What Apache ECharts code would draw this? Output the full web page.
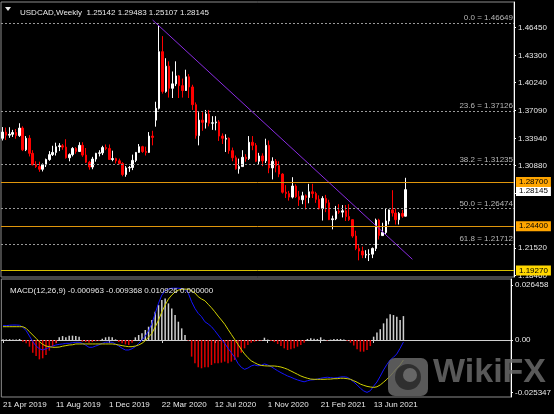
<!DOCTYPE html>
<html><head><meta charset="utf-8">
<script src="https://cdn.jsdelivr.net/npm/echarts@6/dist/echarts.min.js"></script>
<style>html,body{margin:0;padding:0;background:#000;}#c{width:554px;height:414px;}</style>
</head><body><div id="c"></div>
<script>
// ---- DATA ----
const symbolTitle = 'USDCAD,Weekly';
const startWeek = '2019-04-21';
const totalSlots = 154; // chart width in weekly slots (incl. empty right shift)
const opens = [1.3395,1.3465,1.3430,1.3440,1.3460,1.3425,1.3510,1.3265,1.3395,1.3225,
1.3095,1.3075,1.3045,1.3095,1.3155,1.3210,1.3235,1.3300,1.3310,1.3295,
1.3175,1.3210,1.3280,1.3245,1.3315,1.3205,1.3125,1.3070,1.3160,1.3225,
1.3230,1.3290,1.3280,1.3155,1.3165,1.3140,1.3110,1.2985,1.3060,1.3065,
1.3145,1.3235,1.3300,1.3245,1.3235,1.3420,1.3600,1.3734,1.4374,1.3925,
1.4210,1.3960,1.4010,1.4100,1.3990,1.3935,1.4090,1.3975,1.3775,1.3425,
1.3600,1.3575,1.3670,1.3565,1.3570,1.3580,1.3420,1.3385,1.3395,1.3255,
1.3175,1.3050,1.3075,1.3180,1.3165,1.3350,1.3315,1.3135,1.3195,1.3140,
1.3315,1.3060,1.3135,1.3085,1.2990,1.2785,1.2770,1.2730,1.2855,1.2735,
1.2700,1.2745,1.2725,1.2790,1.2770,1.2705,1.2600,1.2715,1.2665,1.2475,
1.2485,1.2570,1.2560,1.2575,1.2510,1.2475,1.2290,1.2150,1.2120,1.2075,
1.2080,1.2085,1.2150,1.2470,1.2295,1.2330,1.2460,1.2585,1.2550,1.2475,
1.2545,1.25142];
const highs = [1.3522,1.3516,1.3520,1.3490,1.3500,1.3565,1.3530,1.3420,1.3430,1.3260,
1.3135,1.3130,1.3110,1.3165,1.3250,1.3310,1.3345,1.3340,1.3330,1.3384,
1.3225,1.3295,1.3295,1.3350,1.3350,1.3285,1.3140,1.3185,1.3230,1.3260,
1.3310,1.3325,1.3325,1.3255,1.3175,1.3165,1.3125,1.3080,1.3082,1.3210,
1.3240,1.3330,1.3310,1.3300,1.3465,1.3480,1.3808,1.4667,1.4550,1.4300,
1.4265,1.4150,1.4265,1.4110,1.4070,1.4170,1.4120,1.4000,1.3800,1.3690,
1.3690,1.3715,1.3715,1.3645,1.3645,1.3600,1.3450,1.3440,1.3405,1.3290,
1.3200,1.3165,1.3260,1.3215,1.3420,1.3420,1.3340,1.3230,1.3225,1.3390,
1.3370,1.3180,1.3160,1.3135,1.3000,1.2865,1.2800,1.2955,1.2875,1.2800,
1.2790,1.2760,1.2880,1.2880,1.2790,1.2750,1.2740,1.2755,1.2700,1.2520,
1.2630,1.2650,1.2640,1.2640,1.2650,1.2480,1.2350,1.2190,1.2170,1.2130,
1.2140,1.2160,1.2487,1.2485,1.2440,1.2605,1.2590,1.2808,1.2600,1.2560,
1.2585,1.29483];
const lows = [1.3370,1.3375,1.3400,1.3410,1.3390,1.3410,1.3250,1.3250,1.3190,1.3090,
1.3060,1.3016,1.3020,1.3070,1.3140,1.3195,1.3200,1.3250,1.3265,1.3165,
1.3135,1.3190,1.3220,1.3240,1.3185,1.3115,1.3040,1.3045,1.3130,1.3190,
1.3205,1.3260,1.3150,1.3135,1.3110,1.3100,1.2965,1.2960,1.3015,1.3035,
1.3125,1.3230,1.3230,1.3200,1.3230,1.3315,1.3526,1.3720,1.3900,1.3910,
1.3855,1.3850,1.3985,1.3850,1.3855,1.3930,1.3850,1.3715,1.3390,1.3315,
1.3480,1.3505,1.3530,1.3490,1.3485,1.3365,1.3330,1.3240,1.3220,1.3135,
1.3040,1.2995,1.3075,1.3130,1.3150,1.3260,1.3125,1.3100,1.3080,1.3115,
1.3000,1.2930,1.3010,1.2955,1.2770,1.2720,1.2690,1.2715,1.2720,1.2630,
1.2650,1.2590,1.2660,1.2720,1.2665,1.2590,1.2465,1.2560,1.2470,1.2365,
1.2470,1.2540,1.2500,1.2460,1.2460,1.2270,1.2130,1.2015,1.2040,1.2040,
1.2007,1.2040,1.2120,1.2250,1.2290,1.2305,1.2420,1.2510,1.2420,1.2420,
1.2495,1.25107];
const closes = [1.3465,1.3430,1.3440,1.3460,1.3425,1.3510,1.3265,1.3395,1.3225,1.3095,
1.3075,1.3045,1.3095,1.3155,1.3210,1.3235,1.3300,1.3310,1.3295,1.3175,
1.3210,1.3280,1.3245,1.3315,1.3205,1.3125,1.3070,1.3160,1.3225,1.3230,
1.3290,1.3280,1.3155,1.3165,1.3140,1.3110,1.2985,1.3060,1.3065,1.3145,
1.3235,1.3300,1.3245,1.3235,1.3420,1.3405,1.3734,1.4374,1.3925,1.4210,
1.3960,1.4010,1.4100,1.3990,1.3935,1.4090,1.3975,1.3775,1.3425,1.3600,
1.3575,1.3670,1.3565,1.3570,1.3580,1.3420,1.3395,1.3395,1.3255,1.3175,
1.3050,1.3075,1.3180,1.3165,1.3350,1.3315,1.3135,1.3195,1.3140,1.3315,
1.3060,1.3135,1.3085,1.2990,1.2785,1.2770,1.2730,1.2855,1.2735,1.2700,
1.2745,1.2725,1.2790,1.2770,1.2705,1.2600,1.2715,1.2665,1.2475,1.2485,
1.2570,1.2560,1.2575,1.2510,1.2475,1.2290,1.2150,1.2120,1.2075,1.2080,
1.2085,1.2150,1.2470,1.2295,1.2330,1.2460,1.2585,1.2550,1.2475,1.2545,
1.25142,1.28145];
const macdMain = [0.0069,0.0069,0.0071,0.0072,0.0072,0.0071,0.0061,0.0045,0.0019,-0.0008,
-0.0029,-0.0042,-0.0048,-0.0042,-0.0035,-0.0029,-0.0024,-0.0021,-0.0019,-0.0016,
-0.0016,-0.0013,-0.0011,-0.0011,-0.0016,-0.0025,-0.0035,-0.0035,-0.0029,-0.0023,
-0.0016,-0.0011,-0.0010,-0.0011,-0.0019,-0.0029,-0.0040,-0.0048,-0.0048,-0.0042,
-0.0032,-0.0016,0.0000,0.0019,0.0045,0.0080,0.0128,0.0177,0.0216,0.0237,
0.0245,0.0249,0.0249,0.0249,0.0247,0.0244,0.0225,0.0184,0.0152,0.0128,
0.0112,0.0088,0.0077,0.0064,0.0045,0.0024,0.0003,-0.0016,-0.0040,-0.0061,
-0.0083,-0.0112,-0.0131,-0.0141,-0.0135,-0.0125,-0.0120,-0.0124,-0.0122,-0.0115,
-0.0120,-0.0128,-0.0138,-0.0148,-0.0157,-0.0165,-0.0173,-0.0179,-0.0186,-0.0192,
-0.0197,-0.0201,-0.0196,-0.0192,-0.0191,-0.0188,-0.0184,-0.0181,-0.0179,-0.0181,
-0.0183,-0.0181,-0.0178,-0.0177,-0.0179,-0.0189,-0.0202,-0.0216,-0.0232,-0.0245,
-0.0252,-0.0244,-0.0222,-0.0202,-0.0174,-0.0144,-0.0118,-0.0096,-0.0083,-0.0067,
-0.0040,-0.0010];
const macdSignal = [0.0064,0.0064,0.0064,0.0064,0.0064,0.0064,0.0064,0.0056,0.0040,0.0024,
0.0008,-0.0008,-0.0021,-0.0029,-0.0032,-0.0035,-0.0035,-0.0034,-0.0030,-0.0027,
-0.0024,-0.0023,-0.0019,-0.0019,-0.0019,-0.0019,-0.0019,-0.0019,-0.0019,-0.0019,
-0.0019,-0.0019,-0.0019,-0.0019,-0.0021,-0.0024,-0.0027,-0.0030,-0.0032,-0.0032,
-0.0029,-0.0024,-0.0016,-0.0003,0.0014,0.0032,0.0063,0.0096,0.0135,0.0168,
0.0197,0.0216,0.0231,0.0240,0.0244,0.0245,0.0244,0.0237,0.0226,0.0208,
0.0197,0.0189,0.0172,0.0155,0.0136,0.0115,0.0096,0.0076,0.0051,0.0027,
0.0003,-0.0021,-0.0045,-0.0067,-0.0085,-0.0100,-0.0109,-0.0117,-0.0122,-0.0124,
-0.0125,-0.0125,-0.0125,-0.0127,-0.0130,-0.0135,-0.0141,-0.0149,-0.0157,-0.0165,
-0.0173,-0.0179,-0.0184,-0.0188,-0.0189,-0.0189,-0.0189,-0.0189,-0.0188,-0.0188,
-0.0186,-0.0186,-0.0184,-0.0184,-0.0186,-0.0189,-0.0196,-0.0203,-0.0212,-0.0218,
-0.0223,-0.0226,-0.0228,-0.0225,-0.0216,-0.0203,-0.0189,-0.0173,-0.0155,-0.0136,
-0.0120,-0.0096];
const macdHist = [0.0004,0.0003,0.0004,0.0003,0.0003,0.0005,-0.0008,-0.0016,-0.0032,-0.0061,
-0.0077,-0.0093,-0.0088,-0.0072,-0.0051,-0.0032,-0.0016,0.0013,0.0019,0.0013,
0.0021,0.0021,0.0019,0.0016,-0.0008,-0.0010,-0.0013,-0.0010,-0.0006,-0.0003,
0.0006,0.0013,0.0016,0.0013,0.0003,-0.0010,-0.0016,-0.0021,-0.0024,-0.0013,
0.0013,0.0024,0.0032,0.0048,0.0064,0.0096,0.0136,0.0168,0.0192,0.0200,
0.0176,0.0152,0.0120,0.0088,0.0056,0.0024,-0.0003,-0.0080,-0.0112,-0.0131,
-0.0136,-0.0131,-0.0131,-0.0120,-0.0112,-0.0112,-0.0109,-0.0104,-0.0112,-0.0104,
-0.0096,-0.0083,-0.0061,-0.0040,-0.0024,-0.0013,-0.0008,-0.0005,-0.0002,0.0011,
0.0002,-0.0005,-0.0010,-0.0019,-0.0029,-0.0040,-0.0048,-0.0045,-0.0040,-0.0032,
-0.0024,-0.0013,0.0005,0.0008,0.0006,0.0005,0.0013,0.0003,-0.0002,0.0002,
0.0005,0.0005,0.0005,0.0003,-0.0003,-0.0013,-0.0027,-0.0045,-0.0056,-0.0056,
-0.0048,-0.0029,0.0016,0.0036,0.0052,0.0080,0.0104,0.0124,0.0120,0.0112,
0.0096,0.0115];
const macdReadout = ['-0.000963','-0.009368','0.010926','0.000000'];
const priceTicks = [1.46450,1.43300,1.40240,1.37090,1.33940,1.30880,1.27730,1.21520,1.18460];
const macdTicks = [0.026458,0,-0.025347];
const fibNames = ['0.0','23.6','38.2','50.0','61.8'];
const fibValues = [1.46649,1.37126,1.31235,1.26474,1.21712];
const orangeLevels = [1.28700,1.24400];
const goldLevels = [1.19270];
const trendIdx = [45,123];
const trendPrice = [1.4732,1.2027];
const tickEvery = 16;

// ---- BUILD ----
const MONTHS=['Jan','Feb','Mar','Apr','May','Jun','Jul','Aug','Sep','Oct','Nov','Dec'];
const t0 = Date.parse(startWeek+'T00:00:00Z');
const categories = [];
for (let i=0;i<totalSlots;i++){const d=new Date(t0+i*7*86400000);categories.push(d.getUTCDate()+' '+MONTHS[d.getUTCMonth()]+' '+d.getUTCFullYear());}
const nBars = closes.length;
const candleData = opens.map((o,i)=>[o,closes[i],lows[i],highs[i]]);
const FONT='"Liberation Sans", Arial, sans-serif';
const TXT='#e8e8e8';
const last = nBars-1;

const markData = [];
fibValues.forEach((v,k)=>markData.push({yAxis:v,lineStyle:{color:'#9a9a9a',type:[2,2],width:1},
  label:{show:true,position:'insideEndTop',distance:1,color:'#b8b8b8',fontSize:8,fontFamily:FONT,formatter:fibNames[k]+' = '+v.toFixed(5)}}));
markData.push({yAxis:closes[last],lineStyle:{color:'rgba(0,0,0,0)',width:0},
  label:{show:true,position:'end',distance:2,backgroundColor:'#ffffff',color:'#000',padding:[1,3,1,3],fontSize:8,fontFamily:FONT,formatter:closes[last].toFixed(5)}});
orangeLevels.forEach(v=>markData.push({yAxis:v,lineStyle:{color:'#e0960c',type:'solid',width:1},
  label:{show:true,position:'end',distance:2,backgroundColor:'#ffa500',color:'#000',padding:[1,3,1,3],fontSize:8,fontFamily:FONT,formatter:v.toFixed(5)}}));
goldLevels.forEach(v=>markData.push({yAxis:v,lineStyle:{color:'#d8c000',type:'solid',width:1},
  label:{show:true,position:'end',distance:2,backgroundColor:'#ffd700',color:'#000',padding:[1,3,1,3],fontSize:8,fontFamily:FONT,formatter:v.toFixed(5)}}));

const chart = echarts.init(document.getElementById('c'),null,{renderer:'canvas'});
chart.setOption({
  backgroundColor:'#000',
  animation:false,
  title:[
    {text:symbolTitle+'  '+[opens[last],highs[last],lows[last],closes[last]].map(v=>v.toFixed(5)).join(' '),left:15,top:4,
     textStyle:{color:TXT,fontSize:8,fontWeight:'normal',fontFamily:FONT}},
    {text:'MACD(12,26,9) '+macdReadout.join(' '),left:5,top:282,
     textStyle:{color:TXT,fontSize:8,fontWeight:'normal',fontFamily:FONT}}
  ],
  grid:[
    {left:1,right:40,top:2,height:275,show:true,borderColor:'#8c8c8c',borderWidth:1,backgroundColor:'transparent'},
    {left:1,right:40,top:279,height:118,show:true,borderColor:'#8c8c8c',borderWidth:1,backgroundColor:'transparent'}
  ],
  xAxis:[
    {type:'category',gridIndex:0,data:categories,boundaryGap:true,axisLine:{show:false},axisTick:{show:false},axisLabel:{show:false},splitLine:{show:false}},
    {type:'category',gridIndex:1,data:categories,boundaryGap:true,
     axisLine:{show:true,lineStyle:{color:'#d0d0d0',width:1}},
     axisTick:{show:true,alignWithLabel:true,length:3,lineStyle:{color:'#d0d0d0'},interval:(i)=>i%tickEvery===0&&i<nBars},
     axisLabel:{show:true,align:'left',margin:4,color:TXT,fontSize:8,fontFamily:FONT,interval:(i)=>i%tickEvery===0&&i<nBars},
     splitLine:{show:false}}
  ],
  yAxis:[
    {type:'value',gridIndex:0,position:'right',min:1.18268,max:1.49355,scale:true,
     axisLine:{show:true,lineStyle:{color:'#ffffff',width:1}},
     axisTick:{show:true,length:2,customValues:priceTicks,lineStyle:{color:'#ffffff'}},
     axisLabel:{show:true,margin:4,color:TXT,fontSize:8,fontFamily:FONT,customValues:priceTicks,formatter:v=>v.toFixed(5)},
     splitLine:{show:false}},
    {type:'value',gridIndex:1,position:'right',min:-0.02741,max:0.02934,
     axisLine:{show:true,lineStyle:{color:'#ffffff',width:1}},
     axisTick:{show:true,length:2,customValues:macdTicks,lineStyle:{color:'#ffffff'}},
     axisLabel:{show:true,margin:4,color:TXT,fontSize:8,fontFamily:FONT,customValues:macdTicks,formatter:v=>v===0?'0.00':v.toFixed(6)},
     splitLine:{show:false}}
  ],
  series:[
    {type:'candlestick',xAxisIndex:0,yAxisIndex:0,data:candleData,barWidth:2,
     itemStyle:{color:'#ffffff',color0:'#ff0000',borderColor:'#ffffff',borderColor0:'#ff0000',borderWidth:1},
     markLine:{silent:true,symbol:'none',animation:false,data:markData}},
    {type:'line',xAxisIndex:0,yAxisIndex:0,data:trendIdx.map((x,k)=>[x,trendPrice[k]]),showSymbol:false,
     lineStyle:{color:'#8a2be2',width:1},silent:true},
    {type:'bar',xAxisIndex:1,yAxisIndex:1,data:macdHist,barWidth:1.5,
     itemStyle:{color:(p)=>p.value>=0?'#cfcfcf':'#e00000'},silent:true},
    {type:'line',xAxisIndex:1,yAxisIndex:1,data:macdMain,showSymbol:false,lineStyle:{color:'#1414ff',width:1},silent:true},
    {type:'line',xAxisIndex:1,yAxisIndex:1,data:macdSignal,showSymbol:false,lineStyle:{color:'#d2d200',width:1},silent:true}
  ],
  graphic:[
    {type:'polygon',shape:{points:[[5,7],[11,7],[8,11]]},style:{fill:TXT}},
    {type:'rect',shape:{x:388,y:358,width:40,height:38,r:7},style:{fill:'rgba(105,105,105,0.85)'},z:100},
    {type:'circle',shape:{cx:408,cy:377,r:13},style:{fill:'rgba(45,45,45,0.95)'},z:101},
    {type:'circle',shape:{cx:410,cy:375,r:7},style:{fill:'rgba(105,105,105,0.95)'},z:102},
    {type:'text',x:433,y:373,style:{text:'WikiFX',font:'bold 34px '+FONT,fill:'rgba(105,105,105,0.85)',verticalAlign:'middle'},z:100}
  ]
});
</script></body></html>
